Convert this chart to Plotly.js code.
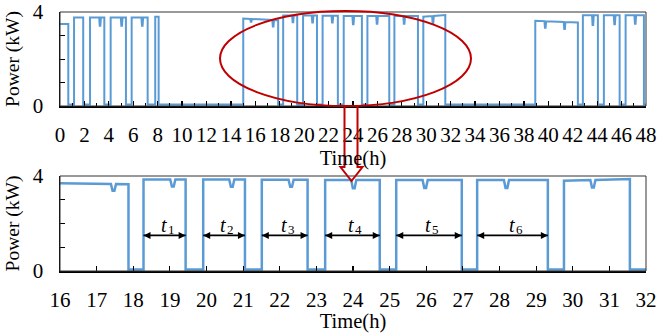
<!DOCTYPE html>
<html>
<head>
<meta charset="utf-8">
<script src="https://cdn.plot.ly/plotly-3.0.1.min.js"></script>
<style>html,body{margin:0;padding:0;background:#fff;}#chart{width:658px;height:333px;}</style>
</head>
<body>
<div id="chart"></div>
<script>
// ---- data ----
const zeroLevel = 0.06;                       // kW, idle level
const onStart   = [0, 1.15, 2.46, 4.15, 5.87, 7.80, 15.01, 18.28, 19.91, 21.51, 23.24, 25.18, 27.39, 29.76, 38.93, 42.83, 44.55, 46.33];
const onEnd     = [0.68, 1.90, 3.63, 5.40, 7.18, 8.08, 17.87, 19.43, 21.05, 22.76, 24.73, 26.97, 29.32, 31.56, 42.42, 44.06, 45.84, 47.83];
const levelStart= [3.49, 3.77, 3.77, 3.77, 3.77, 3.80, 3.72, 3.85, 3.85, 3.84, 3.83, 3.83, 3.83, 3.80, 3.63, 3.86, 3.86, 3.86];
const levelEnd  = [3.49, 3.77, 3.77, 3.77, 3.77, 3.80, 3.65, 3.85, 3.85, 3.84, 3.83, 3.83, 3.83, 3.87, 3.55, 3.86, 3.86, 3.86];
const dipTime   = [3.28, 5.05, 6.74, 15.65, 17.46, 19.08, 20.69, 22.31, 24.02, 25.97, 28.19, 30.55, 39.75, 41.33, 43.65, 45.43, 47.12];
const dipLevel  = [3.42, 3.42, 3.42, 3.58, 3.38, 3.56, 3.55, 3.55, 3.48, 3.50, 3.50, 3.52, 3.33, 3.28, 3.45, 3.48, 3.50];
const tEnd = 48;
// durations marked t1..t6 in the lower panel (indices into the on-periods)
const markedPeriods = [7, 8, 9, 10, 11, 12];
const markLabels = ['1', '2', '3', '4', '5', '6'];
const markLevel = 1.5;
const markLabelLevel = 1.92;
const markSubLevel = 1.76;
const xTickTop = [0,2,4,6,8,10,12,14,16,18,20,22,24,26,28,30,32,34,36,38,40,42,44,46,48];
const yTicks = [0, 4];
const yMinorTicks = [1, 2, 3];

// ---- build the step series ----
const dipHalf = 0.07, dipFlat = 0.025;
const T = [], P = [];
for (let i = 0; i < onStart.length; i++) {
  const s = onStart[i], e = onEnd[i], a = levelStart[i], b = levelEnd[i];
  const lv = t => a + (b - a) * (t - s) / (e - s);
  if (s > 0) { T.push(s); P.push(zeroLevel); }
  T.push(s); P.push(a);
  for (let k = 0; k < dipTime.length; k++) {
    const d = dipTime[k];
    if (d > s && d < e) {
      T.push(d - dipHalf, d - dipFlat, d + dipFlat, d + dipHalf);
      P.push(lv(d - dipHalf), dipLevel[k], dipLevel[k], lv(d + dipHalf));
    }
  }
  T.push(e); P.push(b);
  T.push(e); P.push(zeroLevel);
}
T.push(tEnd); P.push(zeroLevel);

const blue = '#5B9BD5';
const serif = '"Liberation Serif", "Times New Roman", Times, serif';
const W = 658, H = 333;
const px = x => x / W, py = y => 1 - y / H;

const traces = [
  {x: T, y: P, xaxis: 'x', yaxis: 'y', mode: 'lines', line: {color: blue, width: 2}, hoverinfo: 'skip', showlegend: false},
  {x: T, y: P, xaxis: 'x2', yaxis: 'y2', mode: 'lines', line: {color: blue, width: 2.5}, hoverinfo: 'skip', showlegend: false}
];

// double-headed duration arrows t1..t6
const annotations = [];
markedPeriods.forEach((p, i) => {
  const mid = (onStart[p] + onEnd[p]) / 2;
  traces.push({x: [onStart[p], onEnd[p]], y: [markLevel, markLevel], xaxis: 'x2', yaxis: 'y2',
    mode: 'lines+markers', line: {color: '#000', width: 1.6},
    marker: {symbol: ['arrow-left', 'arrow-right'], size: 7, color: '#000', line: {width: 0}},
    cliponaxis: false, hoverinfo: 'skip', showlegend: false});
  annotations.push({xref: 'x2', yref: 'y2', x: mid, y: markLabelLevel, showarrow: false,
    text: 't', font: {family: serif, size: 20, color: '#000', style: 'italic'},
    xanchor: 'right', yanchor: 'middle', xshift: 3, borderpad: 0});
  annotations.push({xref: 'x2', yref: 'y2', x: mid, y: markSubLevel, showarrow: false,
    text: markLabels[i], font: {family: serif, size: 13, color: '#000'},
    xanchor: 'left', yanchor: 'middle', xshift: 2, borderpad: 0});
});

const tickFont = {family: serif, size: 21, color: '#000'};
const titleFont = {family: serif, size: 20.5, color: '#000'};
const yTitleFont = {family: serif, size: 19.5, color: '#000'};
const xDom = [px(60), px(646)];

const shapes = [
  // thin frames
  {type: 'rect', xref: 'paper', yref: 'paper', x0: px(60), x1: px(646), y0: py(106), y1: py(12), line: {color: '#333', width: 1}},
  {type: 'rect', xref: 'paper', yref: 'paper', x0: px(60), x1: px(646), y0: py(271), y1: py(176), line: {color: '#333', width: 1}},
  // red ellipse highlighting 16-32 h
  {type: 'circle', xref: 'paper', yref: 'paper', x0: px(220), x1: px(471), y0: py(106), y1: py(11), line: {color: '#C00000', width: 2}, layer: 'above'},
  // hollow red down arrow
  {type: 'path', xref: 'paper', yref: 'paper', layer: 'above', line: {color: '#C00000', width: 2},
   path: 'M ' + px(344.5) + ',' + py(106) + ' L ' + px(344.5) + ',' + py(167) + ' L ' + px(340.5) + ',' + py(167) +
         ' L ' + px(351.5) + ',' + py(181) + ' L ' + px(362.5) + ',' + py(167) + ' L ' + px(357.5) + ',' + py(167) +
         ' L ' + px(357.5) + ',' + py(106)}
];

const yAxisCommon = {range: [0, 4], tickvals: yTicks, ticks: 'inside', ticklen: 5, tickcolor: '#000',
  minor: {tickvals: yMinorTicks, ticks: 'inside', ticklen: 5, tickcolor: '#000', showgrid: false},
  showgrid: false, zeroline: false, showline: true, linecolor: '#000', linewidth: 1.5,
  tickfont: tickFont, ticklabelstandoff: 11, ticklabeloverflow: 'allow', automargin: false};

const layout = {
  width: W, height: H,
  margin: {l: 0, r: 0, t: 0, b: 0},
  paper_bgcolor: '#fff', plot_bgcolor: '#fff',
  showlegend: false,
  font: {family: serif, color: '#000'},
  xaxis: {domain: xDom, anchor: 'y', range: [0, 48], tickvals: xTickTop, ticks: 'inside', ticklen: 5, tickwidth: 1.2, tickcolor: '#000',
    minor: {dtick: 1, ticks: 'inside', ticklen: 3, tickwidth: 1, tickcolor: '#000', showgrid: false},
    showgrid: false, zeroline: false, showline: true, linecolor: '#000', linewidth: 2, tickfont: tickFont, ticklabelstandoff: 9,
    ticklabeloverflow: 'allow', title: {text: 'Time(h)', font: titleFont, standoff: 2}, automargin: false},
  yaxis: Object.assign({domain: [py(106), py(12)], anchor: 'x',
    title: {text: 'Power (kW)', font: yTitleFont, standoff: 8}}, yAxisCommon),
  xaxis2: {domain: xDom, anchor: 'y2', range: [16, 32], dtick: 1, tick0: 16, ticks: 'inside', ticklen: 5, tickwidth: 1.2, tickcolor: '#000',
    showgrid: false, zeroline: false, showline: true, linecolor: '#000', linewidth: 2, tickfont: tickFont, ticklabelstandoff: 9,
    ticklabeloverflow: 'allow', title: {text: 'Time(h)', font: titleFont, standoff: 3}, automargin: false},
  yaxis2: Object.assign({domain: [py(271), py(176)], anchor: 'x2',
    title: {text: 'Power (kW)', font: yTitleFont, standoff: 8}}, yAxisCommon),
  annotations: annotations,
  shapes: shapes
};

Plotly.newPlot('chart', traces, layout, {displayModeBar: false, staticPlot: true});
</script>
</body>
</html>
